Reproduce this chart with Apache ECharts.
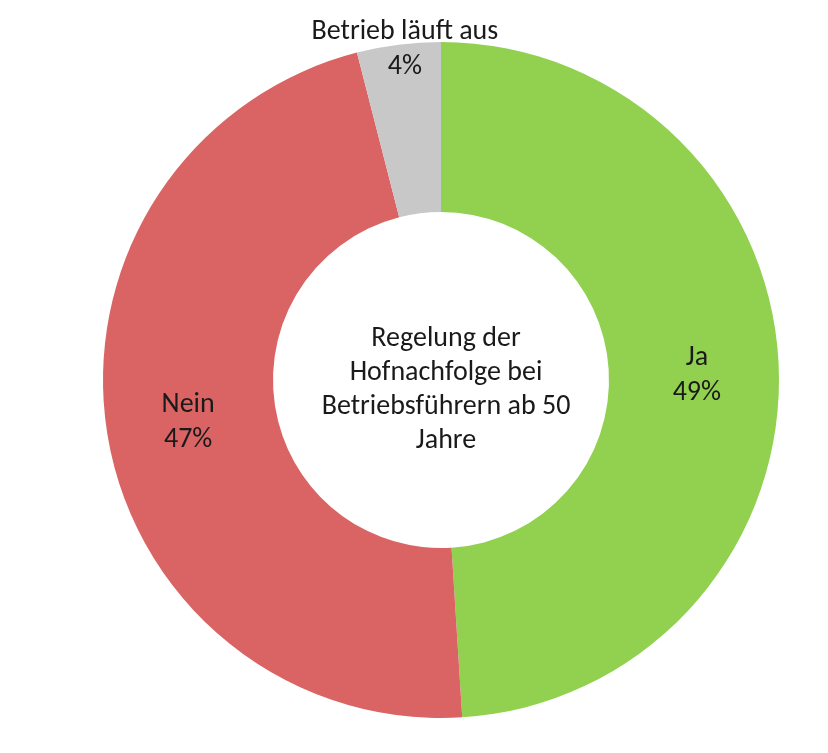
<!DOCTYPE html>
<html>
<head>
<meta charset="utf-8">
<script src="https://cdn.jsdelivr.net/npm/echarts@6/dist/echarts.min.js"></script>
<style>html,body{margin:0;padding:0;background:#fff;}#c{width:828px;height:753px;}</style>
</head>
<body>
<div id="c"></div>
<script>
const categories = ['Ja', 'Nein', 'Betrieb läuft aus'];
const values = [49, 47, 4];
const colors = ['#92D050', '#DA6464', '#C8C8C8'];
const centerTitle = 'Regelung der\nHofnachfolge bei\nBetriebsführern ab 50\nJahre';

const FONT = 'Carlito, Lato, "Open Sans", sans-serif';
const chart = echarts.init(document.getElementById('c'));
chart.setOption({
  backgroundColor: '#fff',
  animation: false,
  title: {
    text: centerTitle,
    left: 441, top: 385, textAlign: 'center', textVerticalAlign: 'middle',
    textStyle: { fontFamily: FONT, fontSize: 28, fontWeight: 'normal', color: '#1a1a1a', lineHeight: 34 }
  },
  series: [{
    type: 'pie',
    center: [441, 380],
    radius: [168, 338],
    startAngle: 90,
    clockwise: true,
    avoidLabelOverlap: false,
    data: categories.map((c, i) => ({ name: c, value: values[i], itemStyle: { color: colors[i] } })),
    label: {
      show: true,
      position: 'inside',
      formatter: p => p.name + '\n' + Math.round(p.percent) + '%',
      fontFamily: FONT, fontSize: 28, color: '#1a1a1a', lineHeight: 35
    },
    labelLine: { show: false },
    labelLayout: function (params) {
      if (params.dataIndex === 2) return { dy: -77, dx: -4 };
      if (params.dataIndex === 0) return { dy: 4 };
      return { dy: 2 };
    }
  }]
});
</script>
</body>
</html>
